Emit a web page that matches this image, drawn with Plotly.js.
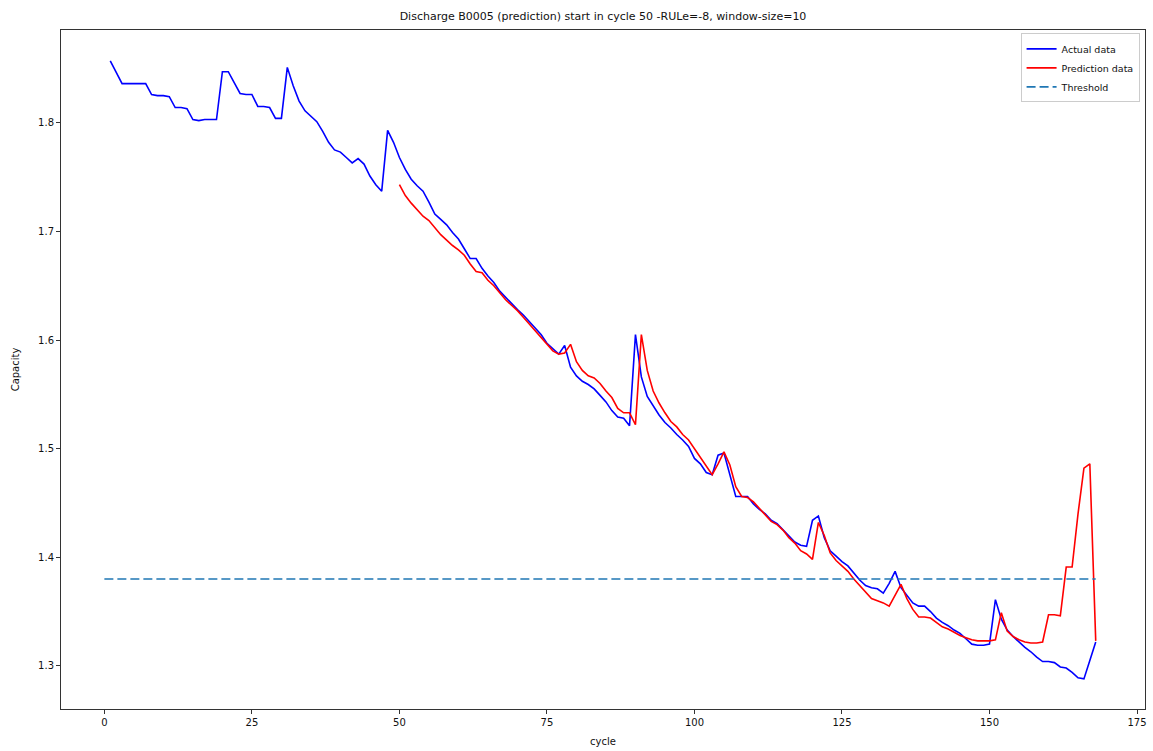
<!DOCTYPE html>
<html>
<head>
<meta charset="utf-8">
<script src="https://cdn.plot.ly/plotly-3.0.1.min.js"></script>
<style>html,body{margin:0;padding:0;background:#fff;}#chart{width:1153px;height:751px;}</style>
</head>
<body>
<div id="chart"></div>
<script>
// Actual capacity, cycles 1..168
const actualData = [
  1.857, 1.846, 1.836, 1.836, 1.836, 1.836, 1.836, 1.826, 1.825, 1.825,
  1.824, 1.814, 1.814, 1.813, 1.803, 1.802, 1.803, 1.803, 1.803, 1.847,
  1.847, 1.837, 1.827, 1.826, 1.826, 1.815, 1.815, 1.814, 1.804, 1.804,
  1.851, 1.834, 1.820, 1.811, 1.806, 1.801, 1.792, 1.782, 1.775, 1.773,
  1.768, 1.763, 1.767, 1.762, 1.751, 1.743, 1.737, 1.793, 1.782, 1.768,
  1.757, 1.748, 1.742, 1.737, 1.727, 1.716, 1.711, 1.706, 1.699, 1.693,
  1.684, 1.675, 1.675, 1.666, 1.659, 1.653, 1.645, 1.639, 1.634, 1.628,
  1.623, 1.617, 1.610, 1.605, 1.597, 1.592, 1.587, 1.595, 1.575, 1.567,
  1.562, 1.559, 1.555, 1.549, 1.543, 1.535, 1.529, 1.528, 1.521, 1.605,
  1.566, 1.548, 1.539, 1.531, 1.524, 1.519, 1.513, 1.508, 1.502, 1.491,
  1.486, 1.478, 1.476, 1.494, 1.496, 1.476, 1.456, 1.456, 1.456, 1.449,
  1.444, 1.440, 1.434, 1.431, 1.425, 1.420, 1.414, 1.411, 1.410, 1.434,
  1.438, 1.418, 1.406, 1.401, 1.396, 1.392, 1.385, 1.379, 1.374, 1.372,
  1.371, 1.367, 1.376, 1.387, 1.372, 1.365, 1.358, 1.355, 1.355, 1.350,
  1.344, 1.340, 1.337, 1.333, 1.330, 1.325, 1.320, 1.319, 1.319, 1.320,
  1.361, 1.343, 1.333, 1.327, 1.322, 1.317, 1.313, 1.308, 1.304, 1.304,
  1.303, 1.299, 1.298, 1.294, 1.289, 1.288, 1.305, 1.322
];
const actualStart = 1;

// Prediction, cycles 50..168
const predictionData = [
  1.743, 1.733, 1.726, 1.720, 1.714, 1.710, 1.703, 1.697, 1.692, 1.687,
  1.683, 1.678, 1.670, 1.663, 1.662, 1.655, 1.650, 1.643, 1.637, 1.632,
  1.627, 1.621, 1.615, 1.608, 1.602, 1.596, 1.590, 1.587, 1.588, 1.596,
  1.580, 1.572, 1.567, 1.565, 1.560, 1.553, 1.547, 1.537, 1.533, 1.533,
  1.522, 1.605, 1.572, 1.553, 1.542, 1.533, 1.525, 1.520, 1.513, 1.508,
  1.500, 1.492, 1.483, 1.476, 1.486, 1.497, 1.485, 1.465, 1.456, 1.455,
  1.451, 1.445, 1.439, 1.433, 1.430, 1.425, 1.418, 1.413, 1.406, 1.403,
  1.398, 1.432, 1.420, 1.404, 1.397, 1.392, 1.387, 1.380, 1.374, 1.368,
  1.362, 1.360, 1.358, 1.355, 1.365, 1.375, 1.362, 1.352, 1.345, 1.345,
  1.344, 1.340, 1.336, 1.334, 1.331, 1.328, 1.326, 1.324, 1.323, 1.323,
  1.323, 1.324, 1.349, 1.332, 1.327, 1.324, 1.322, 1.321, 1.321, 1.322,
  1.347, 1.347, 1.346, 1.391, 1.391, 1.440, 1.482, 1.486, 1.323
];
const predictionStart = 50;

const thresholdCycles = [0, 168];
const thresholdValue = 1.38;

const xTicks = [0, 25, 50, 75, 100, 125, 150, 175];
const yTicks = [1.3, 1.4, 1.5, 1.6, 1.7, 1.8];
const yTickLabels = ['1.3', '1.4', '1.5', '1.6', '1.7', '1.8'];

const actualX = actualData.map((_, i) => actualStart + i);
const predX = predictionData.map((_, i) => predictionStart + i);

const font = {family: 'DejaVu Sans, sans-serif', size: 10, color: '#111'};
const legendFont = {family: 'DejaVu Sans, sans-serif', size: 9.5, color: '#111'};

const traces = [
  {x: actualX, y: actualData, mode: 'lines', name: 'Actual data',
   line: {color: '#0000ff', width: 1.6}},
  {x: predX, y: predictionData, mode: 'lines', name: 'Prediction data',
   line: {color: '#ff0000', width: 1.6}},
  {x: thresholdCycles, y: thresholdCycles.map(() => thresholdValue), mode: 'lines', name: 'Threshold',
   line: {color: '#1f77b4', width: 1.6, dash: '9px,4px'}}
];

const layout = {
  width: 1153, height: 751,
  paper_bgcolor: '#fff', plot_bgcolor: '#fff',
  margin: {l: 61, r: 8, t: 30, b: 42, pad: 0},
  font: font,
  title: {text: 'Discharge B0005 (prediction) start in cycle 50 -RULe=-8, window-size=10',
          font: {family: 'DejaVu Sans, sans-serif', size: 11, color: '#111'},
          x: 0.5, xanchor: 'center', y: 1 - 16/751, yanchor: 'middle', xref: 'paper'},
  xaxis: {
    range: [-7.35, 176.35], tickvals: xTicks, ticktext: xTicks.map(String),
    showgrid: false, zeroline: false, showline: true, mirror: true,
    linecolor: '#333', linewidth: 1, ticks: 'outside', ticklen: 4, tickcolor: '#333',
    tickfont: font, automargin: false,
    title: {text: 'cycle', font: font, standoff: 10}
  },
  yaxis: {
    range: [1.2603, 1.8854], tickvals: yTicks, ticktext: yTickLabels,
    showgrid: false, zeroline: false, showline: true, mirror: true,
    linecolor: '#333', linewidth: 1, ticks: 'outside', ticklen: 4, tickcolor: '#333',
    tickfont: font, automargin: false,
    title: {text: 'Capacity', font: font, standoff: 16}
  },
  showlegend: true,
  legend: {x: 0.995, y: 0.995, xanchor: 'right', yanchor: 'top',
           bgcolor: 'rgba(255,255,255,0.8)', bordercolor: '#ccc', borderwidth: 1,
           font: legendFont, itemwidth: 30, tracegroupgap: 0}
};

Plotly.newPlot('chart', traces, layout, {displayModeBar: false, staticPlot: true});
</script>
</body>
</html>
